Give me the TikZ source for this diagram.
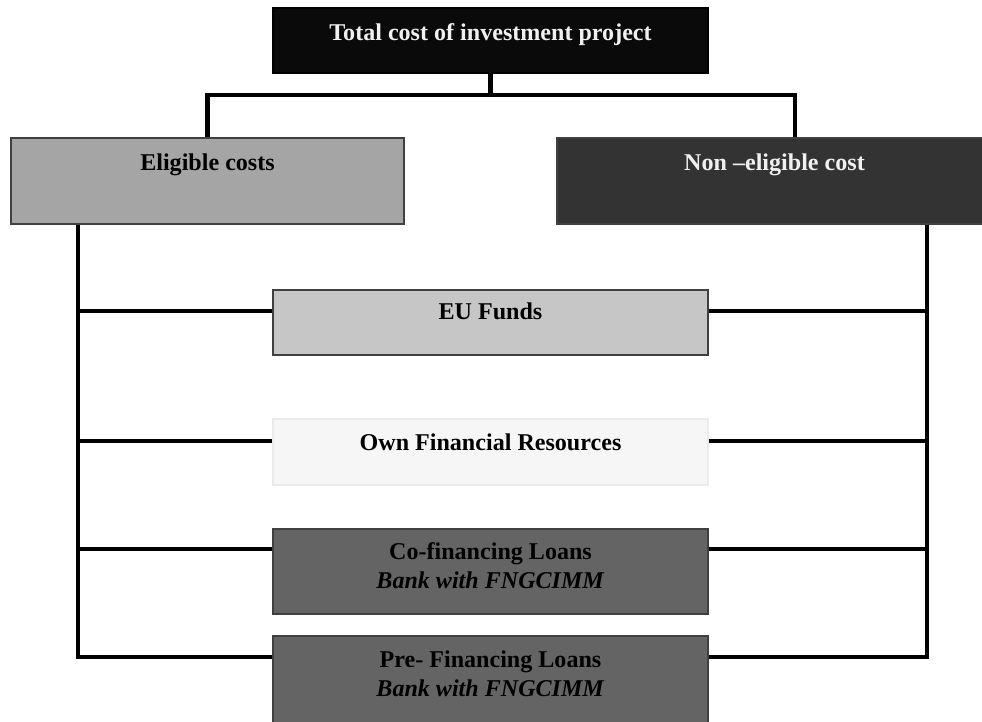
\documentclass[tikz,border=0pt]{standalone}
\usepackage{fontspec}
\setmainfont{Liberation Serif}

\begin{document}
\begin{tikzpicture}[
    box/.style={
        rectangle,
        draw=black!75,
        line width=0.6pt,
        minimum width=8.7cm,
        minimum height=1.3cm,
        inner sep=0pt
    },
    txt/.style={
        inner sep=0pt,
        align=center,
        font=\fontsize{13.7}{16.4}\selectfont\bfseries
    },
    bus/.style={line width=2.3pt, black}
]
\definecolor{topfill}{HTML}{0A0A0A}
\definecolor{eligfill}{HTML}{A5A5A5}
\definecolor{nonfill}{HTML}{333333}
\definecolor{eufill}{HTML}{C6C6C6}
\definecolor{ownfill}{HTML}{F6F6F6}
\definecolor{loanfill}{HTML}{646464}

\useasboundingbox (0,0) rectangle (19.64,-14.42);

% boxes
\node[box, fill=topfill, draw=black] (top) at (9.81,-0.81) {};
\node[box, fill=eligfill, minimum width=7.86cm, minimum height=1.72cm] (elig) at (4.15,-3.62) {};
\node[box, fill=nonfill, minimum height=1.72cm] (non) at (15.49,-3.62) {};
\node[box, fill=eufill] (eu) at (9.81,-6.45) {};
\node[box, fill=ownfill, draw=black!8, minimum height=1.32cm] (own) at (9.81,-9.04) {};
\node[box, fill=loanfill, minimum height=1.7cm] (cofin) at (9.81,-11.43) {};
\node[box, fill=loanfill, minimum height=1.9cm] (prefin) at (9.81,-13.67) {};

% texts, near the top of each box
\node[txt, text=white!94!black] (toptxt) at ([yshift=-0.54cm]top.north) {Total cost of investment project};
\node[txt] (eligtxt) at ([yshift=-0.54cm]elig.north) {Eligible costs};
\node[txt, text=white!94!black] (nontxt) at ([yshift=-0.54cm]non.north) {Non --eligible cost};
\node[txt] (eutxt) at ([yshift=-0.44cm]eu.north) {EU Funds};
\node[txt] (owntxt) at ([yshift=-0.48cm]own.north) {Own Financial Resources};
\node[txt] (cofintxt) at ([yshift=-0.75cm]cofin.north) {Co-financing Loans\\\textit{Bank with FNGCIMM}};
\node[txt] (prefintxt) at ([yshift=-0.76cm]prefin.north) {Pre- Financing Loans\\\textit{Bank with FNGCIMM}};

% bus lines
\coordinate (split) at (9.81,-1.9);
\coordinate (lx) at (1.56,0);
\coordinate (rx) at (18.54,0);
\coordinate (row1) at (0,-6.22);
\coordinate (row2) at (0,-8.82);
\coordinate (row3) at (0,-10.98);
\coordinate (row4) at (0,-13.14);

\draw[bus] (top.south) -- (split);
\draw[bus] (elig.north) |- (split) -| ([xshift=0.41cm]non.north);

\draw[bus] (elig.south -| lx) |- (prefin.west |- row4);
\draw[bus] (non.south -| rx) |- (prefin.east |- row4);

\draw[bus] (lx |- row1) -- (eu.west |- row1);
\draw[bus] (eu.east |- row1) -- (rx |- row1);
\draw[bus] (lx |- row2) -- (own.west |- row2);
\draw[bus] (own.east |- row2) -- (rx |- row2);
\draw[bus] (lx |- row3) -- (cofin.west |- row3);
\draw[bus] (cofin.east |- row3) -- (rx |- row3);

\end{tikzpicture}
\end{document}
